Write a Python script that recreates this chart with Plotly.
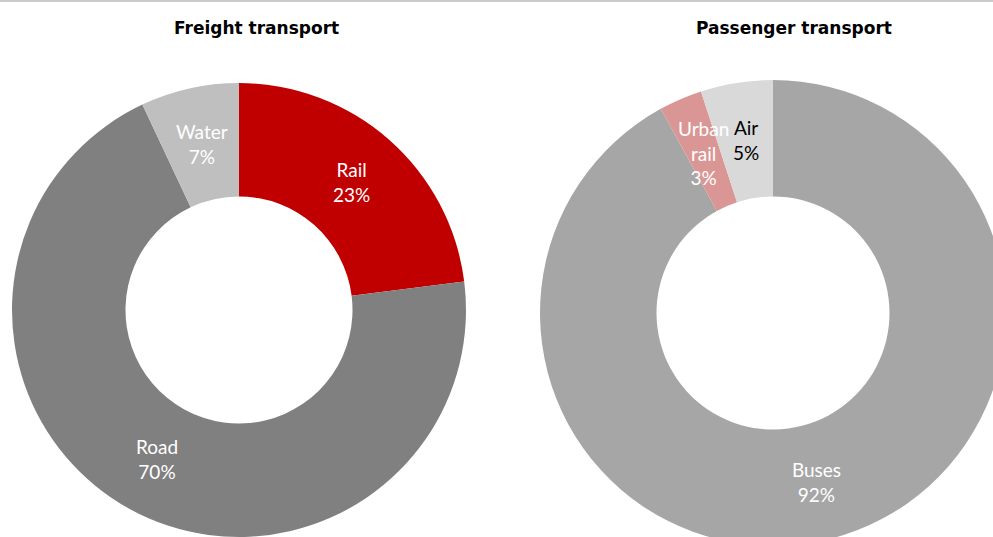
import math
import plotly.graph_objects as go

# Data
freight_labels = ["Rail", "Road", "Water"]
freight_values = [23, 70, 7]
freight_colors = ["#C00000", "#808080", "#BFBFBF"]
freight_text_colors = ["#FFFFFF", "#FFFFFF", "#FFFFFF"]

passenger_labels = ["Buses", "Urban<br>rail", "Air"]
passenger_values = [92, 3, 5]
passenger_colors = ["#A6A6A6", "#DA9694", "#D9D9D9"]
passenger_text_colors = ["#FFFFFF", "#FFFFFF", "#000000"]

titles = ["Freight transport", "Passenger transport"]

W, H = 1010, 550
HOLE = 0.5
LABEL_FONT = "Lato"
LABEL_SIZE = 19
SMALL = 10  # slices below this share get their label placed at mid-ring


def px_domain(cx, cy, r):
    return dict(x=[(cx - r) / W, (cx + r) / W],
                y=[(H - cy - r) / H, (H - cy + r) / H])


pies = [
    dict(labels=freight_labels, values=freight_values, colors=freight_colors,
         tcolors=freight_text_colors, geo=(239, 310, 227)),
    dict(labels=passenger_labels, values=passenger_values, colors=passenger_colors,
         tcolors=passenger_text_colors, geo=(773, 313, 233)),
]

fig = go.Figure()
annotations = []
for p in pies:
    vals = p["values"]
    total = float(sum(vals))
    templ = ["%{label}<br>%{percent:.0%}" if 100 * v / total >= SMALL else "" for v in vals]
    cx, cy, R = p["geo"]
    fig.add_trace(go.Pie(
        labels=p["labels"], values=vals, hole=HOLE, sort=False,
        direction="clockwise", rotation=0,
        marker=dict(colors=p["colors"], line=dict(width=0)),
        texttemplate=templ, textposition="inside",
        insidetextorientation="horizontal",
        textfont=dict(family=LABEL_FONT, size=LABEL_SIZE, color=p["tcolors"]),
        domain=px_domain(cx, cy, R), showlegend=False, hoverinfo="label+percent",
    ))
    # labels of thin slices: mid-angle, mid-ring (as the original does)
    cum = 0.0
    rm = R * (1 + HOLE) / 2
    for lab, v, tc in zip(p["labels"], vals, p["tcolors"]):
        frac = v / total
        if 100 * frac < SMALL:
            th = 2 * math.pi * (cum + frac / 2)
            x = cx + rm * math.sin(th)
            y = cy - rm * math.cos(th)
            annotations.append(dict(
                text="%s<br>%d%%" % (lab, round(100 * frac)),
                x=x / W, y=1 - y / H, xref="paper", yref="paper",
                showarrow=False, xanchor="center", yanchor="middle",
                font=dict(family=LABEL_FONT, size=LABEL_SIZE, color=tc)))
        cum += frac

for t, xc in zip(titles, [256, 794]):
    annotations.append(dict(
        text="<b>%s</b>" % t, x=xc / W, y=1 - 28 / H, xref="paper", yref="paper",
        showarrow=False, xanchor="center", yanchor="middle",
        font=dict(family="DejaVu Sans", size=17, color="#000000")))

fig.update_layout(
    width=W, height=H, margin=dict(l=0, r=0, t=0, b=0),
    paper_bgcolor="#FFFFFF", plot_bgcolor="#FFFFFF",
    annotations=annotations,
    uniformtext=dict(minsize=LABEL_SIZE, mode="show"),
    shapes=[dict(type="line", xref="paper", yref="paper", x0=0, x1=1,
                 y0=1 - 1 / H, y1=1 - 1 / H, line=dict(color="#CCCCCC", width=2))],
)

fig.write_html("out.html", config={"displayModeBar": False}, post_script=(
    "document.body.style.margin='0';"
    "document.body.style.overflow='hidden';"
    "document.documentElement.style.overflow='hidden';"))
